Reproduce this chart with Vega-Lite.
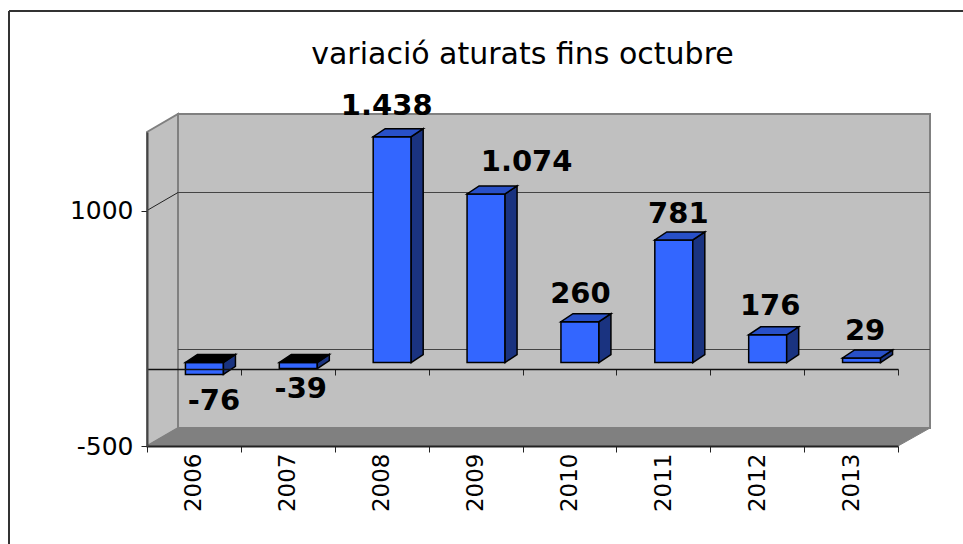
{
"$schema":"https://vega.github.io/schema/vega-lite/v6.json",
"width":751,"height":314,
"autosize":{"type":"none"},
"padding":{"left":147,"top":132,"right":65,"bottom":98},
"background":"white",
"title":{"text":"variació aturats fins octubre","anchor":"middle","font":"DejaVu Sans","fontSize":30,"fontWeight":"normal","color":"#000","offset":-60},
"config":{"view":{"stroke":null}},
"data":{"values":[
{"year":"2006","value":-76,"label":"-76"},
{"year":"2007","value":-39,"label":"-39"},
{"year":"2008","value":1438,"label":"1.438"},
{"year":"2009","value":1074,"label":"1.074"},
{"year":"2010","value":260,"label":"260"},
{"year":"2011","value":781,"label":"781"},
{"year":"2012","value":176,"label":"176"},
{"year":"2013","value":29,"label":"29"}
]},
"resolve":{"axis":{"x":"independent"}},
"layer":[
{"data":{"values":[{"part":"frame"}]},"mark":{"type":"rule","stroke":"#333333","strokeWidth":2,"clip":false},"encoding":{"x":{"value":-138},"x2":{"value":816},"y":{"value":-121}}},
{"data":{"values":[{"part":"frame"}]},"mark":{"type":"rule","stroke":"#333333","strokeWidth":2,"clip":false},"encoding":{"x":{"value":-138},"y":{"value":-121},"y2":{"value":412}}},
{"data":{"values":[{"part":"back wall"}]},"mark":{"type":"rect","fill":"#c0c0c0","stroke":"#808080","strokeWidth":2,"yOffset":-18,"y2Offset":-18},"encoding":{"x":{"value":31},"x2":{"value":783},"y":{"datum":-500,"type":"quantitative"},"y2":{"datum":1500}}},
{"data":{"values":[{"part":"left wall"}]},"mark":{"type":"point","filled":true,"opacity":1,"fill":"#c0c0c0","stroke":"#808080","strokeWidth":2,"size":4,"shape":"M0,0L31,-18L31,-332L0,-314Z"},"encoding":{"x":{"value":0},"y":{"datum":-500,"type":"quantitative"}}},
{"data":{"values":[{"part":"floor"}]},"mark":{"type":"point","filled":true,"opacity":1,"fill":"#808080","stroke":"#808080","strokeWidth":1,"size":4,"shape":"M0,0L31,-18L783,-18L751,0Z"},"encoding":{"x":{"value":0},"y":{"datum":-500,"type":"quantitative"}}},
{"data":{"values":[{"grid":1000},{"grid":0}]},"mark":{"type":"rule","stroke":"#444444","strokeWidth":1,"yOffset":-18},"encoding":{"x":{"value":31},"x2":{"value":783},"y":{"field":"grid","type":"quantitative"}}},
{"data":{"values":[{"grid":1000}]},"mark":{"type":"point","filled":false,"opacity":1,"stroke":"#222222","strokeWidth":1,"size":4,"shape":"M0,0L31,-18"},"encoding":{"x":{"value":0},"y":{"field":"grid","type":"quantitative"}}},
{"mark":{"type":"bar","width":38,"xOffset":10.5,"x2Offset":10.5,"yOffset":-5,"y2Offset":-5,"fill":"#3366ff","stroke":"#000","strokeWidth":1.5},
 "encoding":{
  "x":{"field":"year","type":"ordinal","scale":{"padding":0},"axis":{"title":null,"orient":"bottom","tickBand":"extent","labelAngle":270,"labelFont":"DejaVu Sans","labelFontSize":23,"labelColor":"#000","labelPadding":1,"tickSize":6,"tickColor":"#222","domainColor":"#222","domainWidth":2,"zindex":1}},
  "y":{"field":"value","type":"quantitative","scale":{"domain":[-500,1500],"nice":false},"axis":{"title":null,"values":[-500,1000],"labelExpr":"''+datum.value","grid":false,"labelFont":"DejaVu Sans","labelFontSize":25,"labelColor":"#000","labelPadding":8,"tickSize":6,"tickColor":"#222","domainColor":"#444","domainWidth":2,"zindex":1}}
 }},
{"mark":{"type":"point","filled":true,"opacity":1,"fill":"#1a3380","stroke":"#000","strokeWidth":1.5,"size":4,"xOffset":29.5,"yOffset":-5,
  "shape":{"expr":"'M0,'+min(0,datum.value*0.157)+'L12,'+(min(0,datum.value*0.157)-8)+'L12,'+(max(0,datum.value*0.157)-8)+'L0,'+max(0,datum.value*0.157)+'Z'"}},
 "encoding":{"x":{"field":"year","type":"ordinal"},"y":{"field":"value","type":"quantitative"}}},
{"mark":{"type":"point","filled":true,"opacity":1,"stroke":"#000","strokeWidth":1.5,"size":4,"xOffset":-8.5,"yOffset":-5,
  "shape":{"expr":"'M0,'+min(0,datum.value*0.157)+'L38,'+min(0,datum.value*0.157)+'L50,'+(min(0,datum.value*0.157)-8)+'L12,'+(min(0,datum.value*0.157)-8)+'Z'"}},
 "encoding":{"x":{"field":"year","type":"ordinal"},"y":{"field":"value","type":"quantitative"},
  "fill":{"condition":{"test":"datum.value<0","value":"#000000"},"value":"#2850c8"}}},
{"mark":{"type":"text","font":"DejaVu Sans","fontWeight":"bold","fontSize":29,"color":"#000","align":"center","baseline":"alphabetic",
  "dx":{"expr":"{'2006':20,'2007':13,'2008':5,'2009':51,'2010':11,'2011':15,'2012':13,'2013':14}[datum.year]"},
  "dy":{"expr":"{'2006':31,'2007':24,'2008':-27,'2009':-28,'2010':-24,'2011':-22,'2012':-25,'2013':-23}[datum.year]"}},
 "encoding":{"x":{"field":"year","type":"ordinal"},"y":{"field":"value","type":"quantitative"},"text":{"field":"label"}}},
{"data":{"values":[{"year":"2006"},{"year":"2007"},{"year":"2008"},{"year":"2009"},{"year":"2010"},{"year":"2011"},{"year":"2012"},{"year":"2013"}]},
 "mark":{"type":"tick","opacity":0},
 "encoding":{"x":{"field":"year","type":"ordinal","axis":{"title":null,"orient":"bottom","offset":-77,"labels":false,"tickBand":"extent","tickSize":6,"tickColor":"#222","domainColor":"#111","domainWidth":1.5,"zindex":1}}}}
]
}
